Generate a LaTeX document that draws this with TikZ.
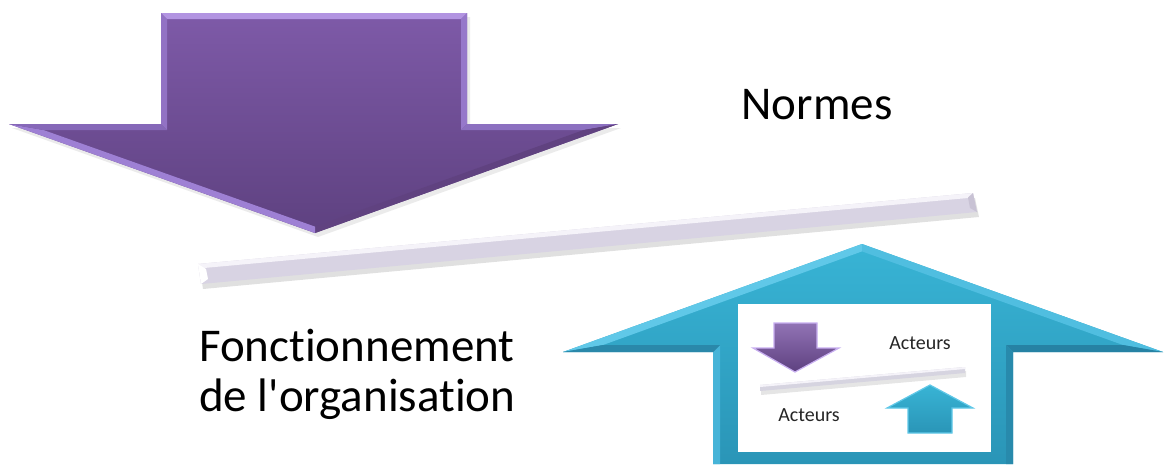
\documentclass[tikz,border=0pt]{standalone}
\usepackage{fontspec}
\setmainfont{Carlito}[Ligatures=NoCommon]
\definecolor{purpTop}{HTML}{7E5AA8}
\definecolor{purpBot}{HTML}{5E4180}
\definecolor{pTopF}{RGB}{178,148,225}
\definecolor{pLeftF}{RGB}{146,114,196}
\definecolor{pRightF}{RGB}{150,120,202}
\definecolor{pShR}{RGB}{140,112,192}
\definecolor{pHeadR}{RGB}{96,66,128}
\definecolor{pHeadL}{RGB}{158,128,212}
\definecolor{pShL}{RGB}{134,104,184}
\definecolor{pSmallRim}{RGB}{200,175,240}
\definecolor{tealTop}{HTML}{38B4D5}
\definecolor{tealBot}{HTML}{2A95B7}
\definecolor{tHeadL}{RGB}{96,200,232}
\definecolor{tHeadR}{RGB}{80,190,224}
\definecolor{tShR}{RGB}{38,130,164}
\definecolor{tShaftR}{RGB}{40,138,172}
\definecolor{tShaftL}{RGB}{70,180,216}
\definecolor{tShL}{RGB}{42,136,170}
\definecolor{barFill}{HTML}{D8D3E3}
\definecolor{barTop}{HTML}{F5F3F9}
\definecolor{barEnd}{RGB}{200,194,212}
\definecolor{smallBar}{RGB}{214,212,224}
\tikzset{
  lbl/.style={inner sep=0pt, font=\fontsize{47}{50}\selectfont, text=black},
  smalllbl/.style={inner sep=0pt, font=\fontsize{20}{22}\selectfont, text=black!85},
  facet/.style={draw=none},
}
\begin{document}
\begin{tikzpicture}[x=1pt,y=-1pt]
\useasboundingbox (0,0) rectangle (1165,464);
\fill[white] (0,0) rectangle (1165,464);

% ---------- big purple arrow ----------
\coordinate (A) at (161,13);  \coordinate (B) at (467,13);
\coordinate (C) at (467,124); \coordinate (D) at (618,124);
\coordinate (E) at (315,233); \coordinate (F) at (9,124);
\coordinate (G) at (161,124);
\coordinate (Ai) at (167,19);  \coordinate (Bi) at (461,19);
\coordinate (Ci) at (461,130); \coordinate (Di) at (583.6,130);
\coordinate (Ei) at (315,226.6); \coordinate (Fi) at (43.4,130);
\coordinate (Gi) at (167,130);
\fill[black, opacity=0.08] ([shift={(3,4)}]A) -- ([shift={(3,4)}]B) -- ([shift={(3,4)}]C) -- ([shift={(3,4)}]D) -- ([shift={(3,4)}]E) -- ([shift={(3,4)}]F) -- ([shift={(3,4)}]G) -- cycle;
\path[top color=purpTop, bottom color=purpBot] (A) -- (B) -- (C) -- (D) -- (E) -- (F) -- (G) -- cycle;
\fill[facet, fill=pTopF] (A) -- (B) -- (Bi) -- (Ai) -- cycle;
\fill[facet, fill=pLeftF] (A) -- (Ai) -- (Gi) -- (G) -- cycle;
\fill[facet, fill=pRightF] (B) -- (Bi) -- (Ci) -- (C) -- cycle;
\fill[facet, fill=pShR] (C) -- (Ci) -- (Di) -- (D) -- cycle;
\fill[facet, fill=pHeadR] (D) -- (Di) -- (Ei) -- (E) -- cycle;
\fill[facet, fill=pHeadL] (E) -- (Ei) -- (Fi) -- (F) -- cycle;
\fill[facet, fill=pShL] (F) -- (Fi) -- (Gi) -- (G) -- cycle;

% ---------- balance bar ----------
\coordinate (b1) at (198,264); \coordinate (b2) at (973,193);
\coordinate (b3) at (977,212); \coordinate (b4) at (201,284);
\fill[black, opacity=0.12] ([shift={(2,5)}]b1) -- ([shift={(2,5)}]b2) -- ([shift={(2,5)}]b3) -- ([shift={(2,5)}]b4) -- cycle;
\fill[barFill] (b1) -- (b2) -- (b3) -- (b4) -- cycle;
\fill[barTop] (b1) -- (b2) -- (973.4,197.5) -- (198.5,268.5) -- cycle;
\fill[white] (b1) -- (206,269) -- (208,279) -- (b4) -- cycle;
\fill[barEnd] (b2) -- (b3) -- (970,208) -- (968,197.5) -- cycle;

% ---------- big teal arrow ----------
\coordinate (T) at (862,244);  \coordinate (R) at (1163,352);
\coordinate (Q) at (1013,352); \coordinate (Q2) at (1013,464);
\coordinate (P2) at (713,464); \coordinate (P) at (713,352);
\coordinate (L) at (563,352);
\coordinate (Ti) at (862,251.4); \coordinate (Ri) at (1123,345);
\coordinate (Qi) at (1006,345);  \coordinate (Q2i) at (1006,464);
\coordinate (P2i) at (720,464);  \coordinate (Pi) at (720,345);
\coordinate (Li) at (603,345);
\path[top color=tealTop, bottom color=tealBot] (T) -- (R) -- (Q) -- (Q2) -- (P2) -- (P) -- (L) -- cycle;
\fill[facet, fill=tHeadL] (L) -- (T) -- (Ti) -- (Li) -- cycle;
\fill[facet, fill=tHeadR] (T) -- (R) -- (Ri) -- (Ti) -- cycle;
\fill[facet, fill=tShR] (R) -- (Q) -- (Qi) -- (Ri) -- cycle;
\fill[facet, fill=tShaftR] (Q) -- (Q2) -- (Q2i) -- (Qi) -- cycle;
\fill[facet, fill=tShaftL] (P) -- (Pi) -- (P2i) -- (P2) -- cycle;
\fill[facet, fill=tShL] (L) -- (Li) -- (Pi) -- (P) -- cycle;

% ---------- inner picture ----------
\fill[white] (738,304) rectangle (991,452);
% small purple arrow
\path[top color=purpTop!85!white, bottom color=purpBot, draw=pSmallRim, line width=1.2pt, line join=miter]
  (774,323) -- (817,323) -- (817,348) -- (839,348) -- (795,372) -- (753,348) -- (774,348) -- cycle;
% small bar
\fill[black, opacity=0.1] (761,389) -- (966,371) -- (966,377) -- (761,395) -- cycle;
\fill[smallBar] (760,385) -- (965,367) -- (965,373) -- (760,391) -- cycle;
\fill[barTop] (760,385) -- (965,367) -- (965,369) -- (760,387) -- cycle;
% small teal arrow
\path[top color=tealTop, bottom color=tealBot, draw=tHeadL, line width=1.2pt, line join=miter]
  (930,385) -- (973,408) -- (952,408) -- (952,433) -- (908,433) -- (908,408) -- (887,408) -- cycle;
\node[smalllbl] (acteursTop) at (920,343) {Acteurs};
\node[smalllbl] (acteursBot) at (809,415) {Acteurs};

% ---------- labels ----------
\node[lbl] (normes) at (817,105) {Normes};
\node[lbl, align=left, anchor=west] (fonct) at (199,374) {Fonctionnement\\de l\textquotesingle organisation};
\end{tikzpicture}
\end{document}
